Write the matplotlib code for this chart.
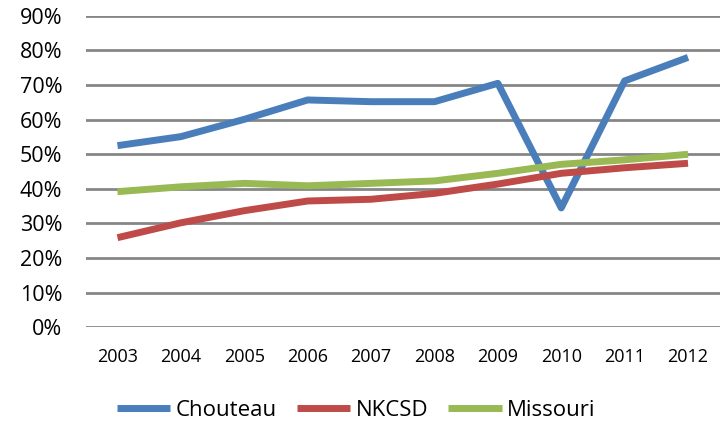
import matplotlib
matplotlib.use("Agg")
import matplotlib.pyplot as plt
from matplotlib.ticker import FuncFormatter

years = ["2003", "2004", "2005", "2006", "2007", "2008", "2009", "2010", "2011", "2012"]
chouteau = [52.5, 55.1, 60.1, 65.7, 65.2, 65.2, 70.5, 34.5, 71.2, 78.0]
nkcsd = [25.9, 30.2, 33.7, 36.5, 37.0, 38.7, 41.4, 44.5, 46.1, 47.4]
missouri = [39.2, 40.6, 41.6, 40.9, 41.6, 42.3, 44.5, 47.1, 48.4, 50.0]

plt.rcParams['font.family'] = ['Open Sans', 'DejaVu Sans']

fig = plt.figure(figsize=(7.27, 4.22), dpi=100)
ax = fig.add_axes([0.118, 0.2244, 0.872, 0.738])

x = list(range(len(years)))
ax.plot(x, chouteau, color="#4A7EBB", lw=5, solid_capstyle="butt", label="Chouteau", zorder=3)
ax.plot(x, nkcsd, color="#BE4B48", lw=5, solid_capstyle="butt", label="NKCSD", zorder=3)
ax.plot(x, missouri, color="#98B954", lw=5, solid_capstyle="butt", label="Missouri", zorder=3)

ax.set_xlim(-0.5, len(years) - 0.5)
ax.set_ylim(0, 90)
ax.set_yticks(range(0, 91, 10))
ax.yaxis.set_major_formatter(FuncFormatter(lambda v, p: f"{int(v)}%"))
ax.set_xticks(x)
ax.set_xticklabels(years)
ax.grid(axis="y", color="#868686", lw=2)
ax.set_axisbelow(True)
for s in ax.spines.values():
    s.set_visible(False)
ax.tick_params(axis="both", length=0)
ax.tick_params(axis="y", labelsize=15.5, pad=17)
ax.tick_params(axis="x", labelsize=13, pad=15)

fig.legend(loc="center", bbox_to_anchor=(0.49, 0.028), ncol=3, frameon=False,
           fontsize=16, handlelength=2.4, handletextpad=0.25, columnspacing=0.9)

fig.savefig("out.png", dpi=100)
